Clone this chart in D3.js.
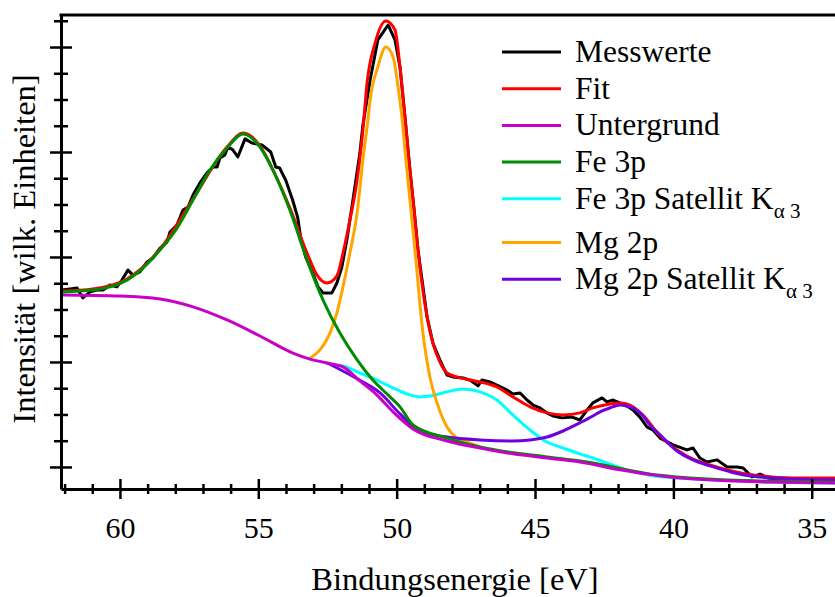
<!DOCTYPE html>
<html>
<head>
<meta charset="utf-8">
<script src="https://cdn.jsdelivr.net/npm/d3@7"></script>
<style>
  body { margin: 0; background: #fff; }
  svg, text { font-family: "Liberation Serif", "Times New Roman", serif; }
  text { fill: #000; }
</style>
</head>
<body>
<div id="chart"></div>
<script>
// Bindungsenergie [eV], Intensität [willk. Einheiten]
const messwerte = [
  [62.10,6.74],[61.81,6.78],[61.55,6.82],[61.34,6.44],[61.08,6.67],[60.83,6.74],[60.61,6.74],
  [60.36,6.93],[60.11,6.86],[59.93,7.12],[59.71,7.50],[59.53,7.31],[59.28,7.43],[59.02,7.81],
  [58.81,7.96],[58.55,8.34],[58.30,8.57],[58.19,8.95],[57.94,9.22],[57.72,9.79],[57.54,9.90],
  [57.36,10.36],[57.11,10.82],[56.86,11.20],[56.64,11.43],[56.49,11.43],[56.39,11.77],[56.21,11.89],
  [56.10,12.19],[55.92,12.08],[55.74,11.81],[55.48,12.50],[55.23,12.34],[54.87,12.27],[54.55,12.00],
  [54.37,11.43],[54.23,11.39],[54.01,10.93],[53.76,10.17],[53.58,9.52],[53.47,8.76],[53.29,8.00],
  [53.05,7.43],[52.84,6.86],[52.66,6.63],[52.34,6.63],[52.16,7.01],[51.98,7.62],[51.80,8.65],
  [51.58,10.17],[51.33,11.96],[51.22,13.03],[50.96,14.74],[50.68,16.27],[50.31,16.84],[50.06,16.27],
  [49.88,15.24],[49.70,13.33],[49.52,11.31],[49.37,9.79],[49.23,8.27],[48.90,5.71],[48.69,4.72],
  [48.44,4.08],[48.18,3.50],[47.97,3.43],[47.60,3.39],[47.35,3.31],[47.06,3.09],[46.92,3.31],
  [46.63,3.24],[46.38,3.12],[46.01,2.93],[45.80,2.78],[45.54,2.82],[45.29,2.55],[45.07,2.36],
  [44.82,2.25],[44.57,2.06],[44.35,1.94],[44.03,1.87],[43.66,1.90],[43.38,1.79],[43.12,2.17],
  [42.91,2.44],[42.58,2.63],[42.40,2.48],[42.18,2.55],[41.93,2.44],[41.68,2.32],[41.46,2.17],
  [41.21,1.90],[40.95,1.52],[40.74,1.41],[40.48,1.10],[40.01,0.84],[39.51,0.65],[39.29,0.72],
  [39.04,0.34],[38.79,0.19],[38.42,0.27],[38.06,0.00],[37.70,0.00],[37.48,-0.04],[37.16,-0.38],
  [36.87,-0.27],[36.58,-0.42],[36.26,-0.46],[35.68,-0.50],[35.06,-0.53],[34.16,-0.53]
];

const fit = [
  [62.10,6.70],[60.98,6.78],[59.75,7.16],[58.55,8.30],[57.36,10.21],[56.13,12.19],[55.55,12.72],
  [54.94,12.23],[54.47,11.31],[53.86,9.87],[53.24,8.15],[52.88,7.31],[52.52,7.01],[52.16,7.28],
  [51.94,8.15],[51.69,9.41],[51.43,10.93],[51.22,12.84],[51.07,14.63],[50.78,16.15],[50.39,16.99],
  [50.06,16.65],[49.88,15.24],[49.70,13.33],[49.52,11.31],[49.37,9.79],[49.23,8.27],[48.90,5.71],
  [48.69,4.72],[48.44,4.00],[48.18,3.58],[47.82,3.43],[47.35,3.31],[46.99,3.24],[46.38,3.05],
  [45.80,2.67],[45.18,2.29],[44.57,2.06],[43.99,1.98],[43.38,2.06],[42.91,2.25],[42.29,2.40],
  [41.93,2.44],[41.57,2.36],[41.10,1.98],[40.48,1.18],[39.87,0.65],[39.29,0.30],[38.68,0.08],
  [38.06,-0.11],[36.87,-0.34],[35.68,-0.42],[34.16,-0.42]
];

const untergrund = [
  [62.10,6.55],[60.00,6.51],[58.55,6.40],[57.36,6.10],[56.13,5.60],[54.94,4.99],[53.75,4.34],
  [53.13,4.11],[52.52,3.96],[51.94,3.81],[51.33,3.28],[50.71,2.74],[50.13,2.10],[49.41,1.45],
  [48.18,0.99],[46.99,0.72],[45.80,0.50],[44.57,0.34],[43.38,0.19],[41.93,-0.11],[40.48,-0.34],
  [38.06,-0.53],[34.16,-0.61]
];

const fe3p = [
  [62.10,6.67],[60.98,6.74],[60.36,6.86],[59.75,7.12],[59.17,7.58],[58.55,8.27],[57.94,9.10],
  [57.36,10.17],[56.75,11.31],[56.13,12.15],[55.55,12.69],[54.94,12.19],[54.47,11.31],[53.86,9.79],
  [53.24,7.89],[52.66,6.36],[52.05,5.10],[51.43,4.08],[50.86,3.31],[50.24,2.67],[49.88,2.29],
  [49.41,1.60],[48.18,1.10],[46.99,0.76],[44.57,0.38],[43.38,0.23],[40.48,-0.32],[38.06,-0.50],
  [34.16,-0.58]
];

const fe3pSat = [
  [52.16,3.89],[51.94,3.85],[51.33,3.58],[50.71,3.31],[50.13,3.01],[49.52,2.74],[49.16,2.67],
  [48.80,2.70],[48.18,2.86],[47.60,2.97],[46.99,2.86],[46.38,2.55],[45.80,1.98],[45.18,1.41],
  [44.57,0.95],[44.10,0.76],[43.38,0.50],[42.91,0.34],[41.68,-0.11],[40.74,-0.34],[38.06,-0.52],
  [34.16,-0.61]
];

const mg2p = [
  [53.13,4.15],[52.77,4.46],[52.41,5.10],[52.16,5.87],[51.94,6.86],[51.69,8.15],[51.43,9.68],
  [51.22,11.70],[51.04,13.22],[50.96,13.98],[50.68,15.24],[50.39,16.00],[50.13,15.62],[49.95,14.48],
  [49.81,13.33],[49.70,12.08],[49.52,10.17],[49.34,8.27],[49.05,5.10],[48.80,3.43],[48.54,2.44],
  [48.18,1.52],[47.82,1.10],[47.35,0.91],[46.99,0.76]
];

const mg2pSat = [
  [52.52,3.97],[51.33,3.30],[50.60,2.82],[49.88,2.02],[49.41,1.56],[48.80,1.26],[48.18,1.14],
  [46.99,1.03],[45.80,0.99],[45.18,1.03],[44.57,1.14],[43.99,1.37],[43.38,1.68],[42.91,1.94],
  [42.65,2.10],[42.29,2.25],[41.93,2.36],[41.68,2.32],[41.46,2.25],[41.10,1.94],[40.85,1.60],
  [40.48,1.22],[39.87,0.61],[39.29,0.27],[38.68,0.04],[38.06,-0.15],[37.48,-0.30],[36.87,-0.38],
  [35.68,-0.46],[34.16,-0.50]
];

const xMajorTicks = [60, 55, 50, 45, 40, 35];
const xMinorTicks = d3.range(35, 63).filter(v => v % 5 !== 0);
const yMajorTicks = [0, 4, 8, 12, 16];
const yMinorTicks = d3.range(0, 18).filter(v => v % 4 !== 0);

const legendNames = ["Messwerte", "Fit", "Untergrund", "Fe 3p", "Fe 3p Satellit K", "Mg 2p", "Mg 2p Satellit K"];
const legendSubs = ["", "", "", "", "α 3", "", "α 3"];
const legendColors = ["#000000", "#ff0000", "#c800c8", "#008c00", "#00ffff", "#ffa500", "#7000e0"];

// ---------------------------------------------------------------

const width = 835, height = 597;
const plot = { left: 61, right: 835, top: 15, bottom: 489 };
const serif = '"Liberation Serif", "Times New Roman", serif';

const svg = d3.select("#chart")
    .append("svg")
    .attr("width", width)
    .attr("height", height);

const x = d3.scaleLinear().domain([62.13, 34.16]).range([plot.left, plot.right]);
const y = d3.scaleLinear().domain([-0.84, 17.22]).range([plot.bottom, plot.top]);

const line = d3.line()
    .x(d => x(d[0]))
    .y(d => y(d[1]));

const smooth = d3.line()
    .curve(d3.curveMonotoneX)
    .x(d => x(d[0]))
    .y(d => y(d[1]));

// curves, in the order they overlap in the picture
const series = [
  { data: messwerte, color: legendColors[0], gen: line },
  { data: fit, color: legendColors[1], gen: smooth },
  { data: fe3pSat, color: legendColors[4], gen: smooth },
  { data: mg2p, color: legendColors[5], gen: smooth },
  { data: mg2pSat, color: legendColors[6], gen: smooth },
  { data: fe3p, color: legendColors[3], gen: smooth },
  { data: untergrund, color: legendColors[2], gen: smooth }
];

svg.append("g")
    .selectAll("path")
    .data(series)
    .join("path")
    .attr("fill", "none")
    .attr("stroke", d => d.color)
    .attr("stroke-width", 3)
    .attr("stroke-linejoin", "round")
    .attr("d", d => d.gen(d.data));

// axes
const xMinor = svg.append("g")
    .attr("transform", `translate(0,${plot.bottom})`)
    .call(d3.axisBottom(x).tickValues(xMinorTicks).tickSize(5).tickFormat(""))
    .call(g => g.select(".domain").remove());
xMinor.selectAll(".tick line").attr("y1", -5).attr("stroke-width", 2.5);

const xMajor = svg.append("g")
    .attr("transform", `translate(0,${plot.bottom})`)
    .call(d3.axisBottom(x).tickValues(xMajorTicks).tickSize(10).tickSizeOuter(0))
    .attr("font-family", null)
    .attr("font-size", null);
xMajor.select(".domain").attr("stroke-width", 3);
xMajor.selectAll(".tick line").attr("y1", -10).attr("stroke-width", 2.5);
xMajor.selectAll(".tick text")
    .attr("y", 49)
    .attr("dy", null)
    .style("font-family", serif)
    .style("font-size", "30px");

const yMinor = svg.append("g")
    .attr("transform", `translate(${plot.left},0)`)
    .call(d3.axisLeft(y).tickValues(yMinorTicks).tickSize(7).tickFormat(""))
    .call(g => g.select(".domain").remove());
yMinor.selectAll(".tick line").attr("x1", 7).attr("stroke-width", 2.5);

const yMajor = svg.append("g")
    .attr("transform", `translate(${plot.left},0)`)
    .call(d3.axisLeft(y).tickValues(yMajorTicks).tickSize(11).tickSizeOuter(0).tickFormat(""));
yMajor.select(".domain").attr("stroke-width", 3);
yMajor.selectAll(".tick line").attr("x1", 11).attr("stroke-width", 2.5);

// top frame line
svg.append("line")
    .attr("x1", plot.left).attr("x2", plot.right)
    .attr("y1", plot.top).attr("y2", plot.top)
    .attr("stroke", "#000")
    .attr("stroke-width", 3)
    .attr("stroke-linecap", "square");

// axis titles
svg.append("text")
    .attr("x", 455)
    .attr("y", 590)
    .attr("text-anchor", "middle")
    .style("font-size", "32.5px")
    .text("Bindungsenergie [eV]");

svg.append("text")
    .attr("transform", "translate(35,249) rotate(-90)")
    .attr("text-anchor", "middle")
    .style("font-size", "32.5px")
    .text("Intensität [wilk. Einheiten]");

// legend
let legendY = 52;
const legendRows = legendNames.map((name, i) => {
  const row = { name, sub: legendSubs[i], color: legendColors[i], y: legendY };
  legendY += 36.7 + (legendSubs[i] ? 7 : 0);
  return row;
});

const legend = svg.append("g")
    .selectAll("g")
    .data(legendRows)
    .join("g")
    .attr("transform", d => `translate(0,${d.y})`);

legend.append("line")
    .attr("x1", 502).attr("x2", 561)
    .attr("stroke", d => d.color)
    .attr("stroke-width", 3);

const legendText = legend.append("text")
    .attr("x", 575)
    .attr("y", 10)
    .style("font-size", "31.5px")
    .text(d => d.name);

legendText.filter(d => d.sub)
    .append("tspan")
    .style("font-size", "21px")
    .attr("dy", 9)
    .text(d => d.sub);
</script>
</body>
</html>
